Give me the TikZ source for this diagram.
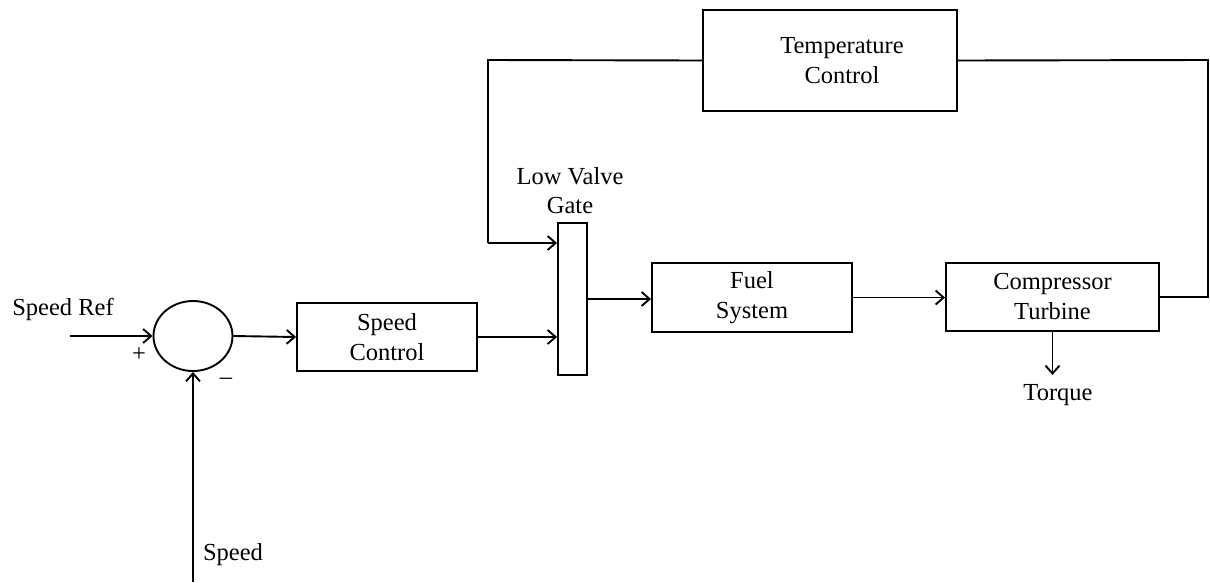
\documentclass[tikz,border=0pt]{standalone}
\usepackage{fontspec}
\setmainfont{Liberation Serif}
\usetikzlibrary{arrows.meta,shapes.geometric,calc}
\tikzset{
  blk/.style={draw,line width=1.9pt,rectangle,inner sep=0pt,align=center,font=\fontsize{24.5}{30}\selectfont},
  lbl/.style={inner sep=0pt,align=center,font=\fontsize{24.5}{29}\selectfont},
  wire/.style={line width=1.9pt},
  arr/.style={line width=1.9pt,-{Straight Barb[length=8pt,width=14pt,line width=1.9pt]}}
}
\begin{document}
\begin{tikzpicture}[x=1pt,y=-1pt]
\useasboundingbox (0,0) rectangle (1210,582);
% blocks
\node[draw,line width=1.9pt,ellipse,minimum width=79pt,minimum height=70pt,inner sep=0pt] (sum) at (193,336) {};
\node[blk,minimum width=180pt,minimum height=68pt] (sc) at (387,337) {Speed\\Control};
\node[blk,minimum width=29pt,minimum height=152pt] (gate) at (572.5,299) {};
\node[blk,minimum width=200pt,minimum height=69pt] (fuel) at (752,297.5) {Fuel\\System};
\node[blk,minimum width=213pt,minimum height=68pt] (ct) at (1052.5,297) {Compressor\\Turbine};
\node[blk,minimum width=254pt,minimum height=101pt,text width=254pt,align=center] (tc) at (830,60.5) {\hspace*{24pt}Temperature\\\hspace*{24pt}Control};
% labels
\node[lbl] (srl) at (63,309) {Speed Ref};
\node[lbl] (plus) at (139,355) {+};
\node[lbl] (minus) at (226,381) {\textendash};
\node[lbl] (spl) at (233,555) {Speed};
\node[lbl] (lvg) at (570,191) {Low Valve\\Gate};
\node[lbl] (tq) at (1058,395) {Torque};
% free ends and corners
\coordinate (srin) at (70,336);
\coordinate (spin) at (193,582);
\coordinate (tl) at (488,60);
\coordinate (tb) at (488,243);
\coordinate (rb) at (1208,297);
\coordinate (rt) at (1208,60);
\coordinate (tqe) at (1052.5,375);
% connectors
\draw[arr] (srin) -- (sum.west);
\draw[arr] (spin) -- (sum.south);
\draw[arr] (sum.east) -- (sc.west);
\draw[arr] (sc.east) -- (sc.east -| gate.west);
\draw[wire] (tc.west) -- (tl) -- (tb);
\draw[arr] (tb) -- (tb -| gate.west);
\draw[arr] (gate.east) -- (gate.east -| fuel.west);
\draw[arr] (fuel.east) -- (fuel.east -| ct.west);
\draw[wire] (ct.east) -- (rb) -- (rt) -- (tc.east);
\draw[arr] (ct.south) -- (tqe);
\end{tikzpicture}
\end{document}
